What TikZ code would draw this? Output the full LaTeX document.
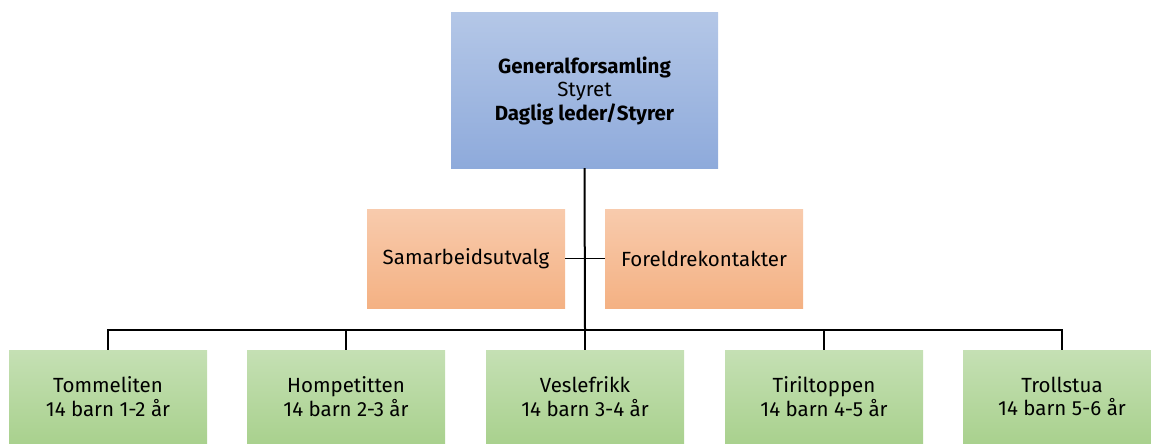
\documentclass[tikz,border=0pt]{standalone}
\usepackage{fontspec}
\setmainfont{Fira Sans}
\definecolor{bluetop}{HTML}{B4C7E7}
\definecolor{bluebot}{HTML}{8EAADB}
\definecolor{orangetop}{HTML}{F8CBAD}
\definecolor{orangebot}{HTML}{F4B183}
\definecolor{greentop}{HTML}{C5E0B4}
\definecolor{greenbot}{HTML}{A9D18E}
\begin{document}
\begin{tikzpicture}[x=1pt,y=-1pt,
  base/.style={rectangle,inner sep=0pt,align=center,font=\fontsize{20.5}{23.5}\selectfont,text=black},
  topbox/.style={base,top color=bluetop,bottom color=bluebot,minimum width=267pt,minimum height=155pt},
  midbox/.style={base,top color=orangetop,bottom color=orangebot,minimum width=198pt,minimum height=99pt},
  unitbox/.style={base,top color=greentop,bottom color=greenbot,minimum width=198pt,minimum height=93pt},
  trunk/.style={line width=2pt},
  link/.style={line width=1.2pt}]
\useasboundingbox (0,0) rectangle (1151,444);
\node[topbox] (top) at (584.5,90.5) {\textbf{Generalforsamling}\\Styret\\\textbf{Daglig leder/Styrer}};
\node[midbox] (sam) at (466,258.5) {Samarbeidsutvalg};
\node[midbox] (fk) at (704,258.5) {Foreldrekontakter};
\node[unitbox] (g1) at (108,396.5) {Tommeliten\\14 barn 1-2 år};
\node[unitbox] (g2) at (346,396.5) {Hompetitten\\14 barn 2-3 år};
\node[unitbox] (g3) at (585,396.5) {Veslefrikk\\14 barn 3-4 år};
\node[unitbox] (g4) at (824,396.5) {Tiriltoppen\\14 barn 4-5 år};
\node[unitbox] (g5) at (1062,396.5) {Trollstua\\14 barn 5-6 år};
\coordinate (bus) at (585,330);
\draw[trunk] (top.south) -- (bus);
\draw[link] (sam.east) -- (sam.east -| bus);
\draw[link] (fk.west) -- (fk.west -| bus);
\draw[link] (bus) -| (g1.north);
\draw[link] (bus) -| (g2.north);
\draw[link] (bus) -- (g3.north);
\draw[link] (bus) -| (g4.north);
\draw[link] (bus) -| (g5.north);
\end{tikzpicture}
\end{document}
